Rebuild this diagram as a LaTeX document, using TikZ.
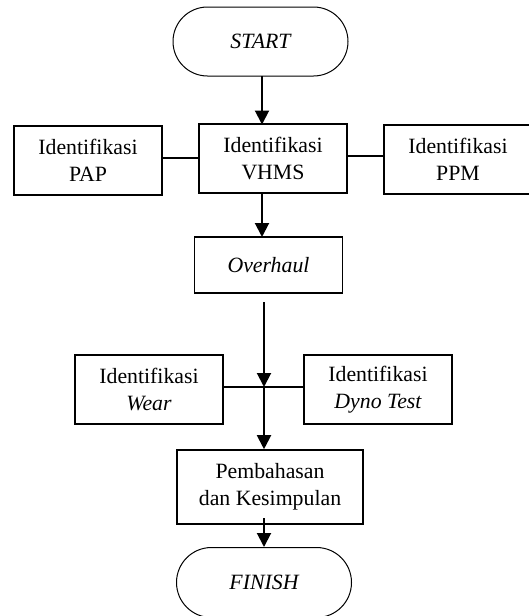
\documentclass[tikz,border=0pt]{standalone}
\usepackage{fontspec}
\setmainfont{Liberation Serif}
\usetikzlibrary{shapes.misc,arrows.meta}

\begin{document}
\begin{tikzpicture}[x=0.5pt,y=-0.5pt,
    font=\fontsize{10.9}{13.5}\selectfont,
    kotak/.style={draw,line width=0.8pt,align=center,inner sep=0pt,
      minimum width=74pt,minimum height=34.5pt},
    ujung/.style={draw,line width=0.5pt,rounded rectangle,inner sep=0pt,
      minimum width=87.5pt,minimum height=34.5pt,font=\fontsize{10.9}{13.5}\selectfont\itshape},
    panah/.style={line width=1pt,-{Triangle[width=7pt,length=7pt]}},
    garis/.style={line width=0.8pt}]
  \useasboundingbox (0,0) rectangle (529,616);
  \clip (0,0) rectangle (529,616);

  % Terminal awal
  \node[ujung] (start) at (260.5,41.5) {START};

  % Baris identifikasi atas
  \node[kotak] (vhms) at (273,158.5) {Identifikasi\\VHMS};
  \node[kotak] (pap) at (88,160.5) {Identifikasi\\PAP};
  % kotak PPM terpotong di tepi kanan
  \node[kotak,minimum width=84pt] (ppm) at (468,159.5) {};
  \node at (458,159.5) [align=center] (ppmteks) {Identifikasi\\PPM};

  % Overhaul
  \node[kotak,minimum height=28pt] (overhaul) at (268.5,265) {\itshape Overhaul};

  % Baris identifikasi bawah
  \node[kotak] (wear) at (149,389.5) {Identifikasi\\\itshape Wear};
  \node[kotak] (dyno) at (378,389.5) {Identifikasi\\\itshape Dyno Test};

  % Pembahasan
  \node[kotak,minimum width=93pt,minimum height=37pt] (bahas) at (270,487)
    {Pembahasan\\dan Kesimpulan};

  % Terminal akhir
  \node[ujung,minimum height=35pt] (finish) at (264,582.5) {FINISH};

  % Titik bantu
  \coordinate (awal) at (264,302);
  \coordinate (jn) at (264,387);

  % Penghubung
  \draw[panah] (262,76) -- (262,124.5);
  \draw[panah] (262,193) -- (262,237);
  \draw[garis] (pap.east |- 0,158) -- (vhms.west |- 0,158);
  \draw[garis] (vhms.east |- 0,156) -- (ppm.west |- 0,156);
  \draw[panah] (awal) -- (jn);
  \draw[garis] (wear.east |- jn) -- (dyno.west |- jn);
  \draw[panah] (jn) -- (jn |- bahas.north);
  \draw[panah] (264,518) -- (finish.north -| jn);
\end{tikzpicture}
\end{document}
